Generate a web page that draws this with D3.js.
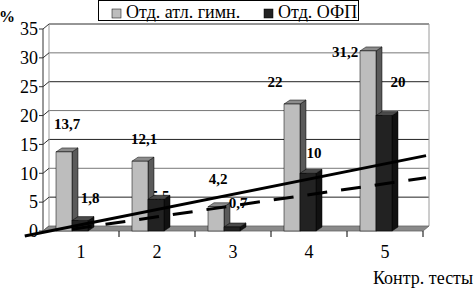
<!DOCTYPE html>
<html lang="ru">
<head>
<meta charset="UTF-8">
<title>Контр. тесты</title>
<script src="https://d3js.org/d3.v7.min.js"></script>
<style>
    body { margin: 0; background: #fff; }
    svg { display: block; }
    text { font-family: "Liberation Serif", "Times New Roman", "DejaVu Serif", serif; }
    .tick-label { font-size: 18px; fill: #000; }
    .data-label { font-size: 15px; font-weight: bold; fill: #000; }
    .legend-text { font-size: 18px; fill: #000; }
</style>
</head>
<body>
<svg id="chart" width="476" height="289"></svg>
<script>
// Data
const categories = ["1", "2", "3", "4", "5"];
const seriesNames = ["Отд. атл. гимн.", "Отд. ОФП"];
const athletic = [13.7, 12.1, 4.2, 22, 31.2];
const ofp = [1.8, 5.5, 0.7, 10, 20];
const yTicks = [0, 5, 10, 15, 20, 25, 30, 35];
// trend lines: [category position, value] at both ends
const trendSolid = [[0.26, -0.87], [5.54, 13.06]];
const trendDashed = [[0.88, 0.31], [5.54, 9.24]];

const seriesValues = [athletic, ofp];
const fills = [
    { front: "#bdbdbd", side: "#5a5a5a", top: "#8c8c8c" },
    { front: "#222222", side: "#111111", top: "#4a4a4a" }
];

const svg = d3.select("#chart");

// layout
const pLeft = 43, pRight = 423, pBottom = 231, pTop = 29;
const wallDx = 6, wallDy = -5;   // back wall offset
const barDx = 6, barDy = -4;     // bar depth

const x0 = d3.scaleBand().domain(categories).range([pLeft, pRight]);
const x1 = d3.scaleBand().domain(seriesNames).range([13, 45]);
const xc = d3.scaleLinear().domain([0.5, 5.5]).range([pLeft, pRight]);
const y = d3.scaleLinear().domain([0, 35]).range([pBottom, pTop]);

// back wall gridlines
svg.append("g").selectAll("line")
    .data(yTicks.slice(1))
    .join("line")
    .attr("x1", pLeft + wallDx).attr("x2", pRight + wallDx)
    .attr("y1", d => y(d) + wallDy).attr("y2", d => y(d) + wallDy)
    .attr("stroke", (d, i) => i % 2 ? "#777" : "#222")
    .attr("stroke-width", 1);

// wall edges
svg.append("path")
    .attr("d", `M${pLeft + wallDx},${pBottom + wallDy}V${pTop + wallDy}H${pRight + wallDx}V${pBottom + wallDy}`)
    .attr("fill", "none").attr("stroke", "#9a9a9a").attr("stroke-width", 1);

// side wall diagonals + value ticks
svg.append("g").selectAll("path")
    .data(yTicks)
    .join("path")
    .attr("d", d => `M${pLeft - 4},${y(d)}H${pLeft}L${pLeft + wallDx},${y(d) + wallDy}`)
    .attr("fill", "none").attr("stroke", "#333").attr("stroke-width", 1);

svg.append("line")
    .attr("x1", pLeft).attr("x2", pLeft)
    .attr("y1", pTop).attr("y2", pBottom)
    .attr("stroke", "#333");

// floor
svg.append("path")
    .attr("d", `M${pLeft},${pBottom}H${pRight}L${pRight + wallDx},${pBottom + wallDy}H${pLeft + wallDx}Z`)
    .attr("fill", "#8a8a8a").attr("stroke", "#666").attr("stroke-width", 0.8);

// category ticks
svg.append("g").selectAll("line")
    .data(categories)
    .join("line")
    .attr("x1", d => x0(d) + x0.bandwidth()).attr("x2", d => x0(d) + x0.bandwidth())
    .attr("y1", pBottom).attr("y2", pBottom + 6)
    .attr("stroke", "#000");

// value axis labels
svg.append("g").selectAll("text")
    .data(yTicks)
    .join("text")
    .attr("class", "tick-label")
    .attr("x", 38).attr("y", d => y(d))
    .attr("dy", "0.35em")
    .attr("text-anchor", "end")
    .text(d => d);

// category labels
svg.append("g").selectAll("text")
    .data(categories)
    .join("text")
    .attr("class", "tick-label")
    .attr("x", d => x0(d) + x0.bandwidth() / 2)
    .attr("y", 258)
    .attr("text-anchor", "middle")
    .text(d => d);

svg.append("text").attr("class", "tick-label")
    .attr("x", 373).attr("y", 284).text("Контр. тесты");

svg.append("text")
    .attr("x", -1).attr("y", 22)
    .style("font-size", "16px").style("font-weight", "bold")
    .text("%");

// data labels (drawn under the bars)
const labelNudge = [
    [[3, -4], [4, 2], [2, -4], [-17, 2], [-23, 25]],
    [[10, 1], [4, 20], [6, 0], [6, 3], [14, -10]]
];
const fmt = v => String(v).replace(".", ",");

seriesNames.forEach((s, si) => {
    svg.append("g").selectAll("text")
        .data(seriesValues[si])
        .join("text")
        .attr("class", "data-label")
        .attr("text-anchor", "middle")
        .attr("dy", "0.35em")
        .attr("x", (d, i) => x0(categories[i]) + x1(s) + x1.bandwidth() / 2 + labelNudge[si][i][0])
        .attr("y", (d, i) => y(d) - 24 + labelNudge[si][i][1])
        .text(fmt);
});

// 3D bars
categories.forEach((c, i) => {
    seriesNames.forEach((s, si) => {
        const v = seriesValues[si][i];
        const bx = x0(c) + x1(s), bw = x1.bandwidth(), by = y(v);
        const g = svg.append("g").attr("stroke", "#000").attr("stroke-width", 0.5);
        g.append("path")
            .attr("d", `M${bx + bw},${by}L${bx + bw + barDx},${by + barDy}V${pBottom + barDy}L${bx + bw},${pBottom}Z`)
            .attr("fill", fills[si].side);
        g.append("path")
            .attr("d", `M${bx},${by}L${bx + barDx},${by + barDy}H${bx + bw + barDx}L${bx + bw},${by}Z`)
            .attr("fill", fills[si].top);
        g.append("rect")
            .attr("x", bx).attr("y", by)
            .attr("width", bw).attr("height", pBottom - by)
            .attr("fill", fills[si].front);
    });
});

// trend lines
const line = d3.line().x(d => xc(d[0])).y(d => y(d[1]));
svg.append("path").datum(trendSolid)
    .attr("d", line).attr("fill", "none")
    .attr("stroke", "#000").attr("stroke-width", 3);
svg.append("path").datum(trendDashed)
    .attr("d", line).attr("fill", "none")
    .attr("stroke", "#000").attr("stroke-width", 3)
    .attr("stroke-dasharray", "20 14");

// legend
const legend = svg.append("g");
legend.append("rect")
    .attr("x", 98.5).attr("y", 0.5).attr("width", 260).attr("height", 20)
    .attr("fill", "#fff").attr("stroke", "#000");
const legendX = [112, 264];
seriesNames.forEach((s, si) => {
    legend.append("rect")
        .attr("x", legendX[si]).attr("y", 9).attr("width", 9).attr("height", 9)
        .attr("fill", fills[si].front).attr("stroke", "#000").attr("stroke-width", 0.5);
    legend.append("text").attr("class", "legend-text")
        .attr("x", legendX[si] + 14).attr("y", 18).text(s);
});
</script>
</body>
</html>
